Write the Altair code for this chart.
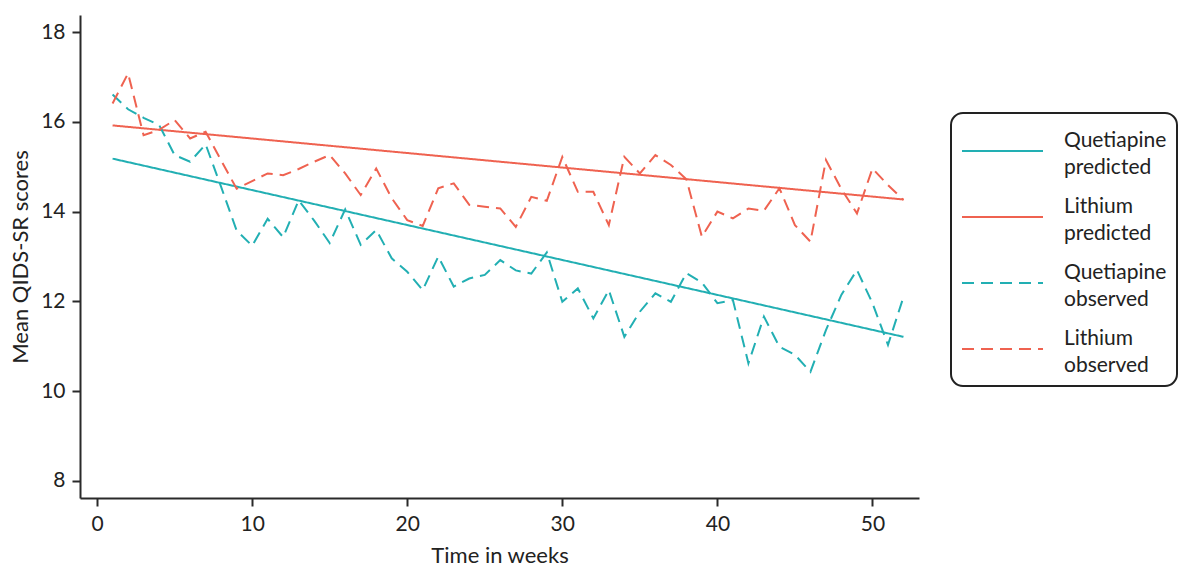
import altair as alt
import pandas as pd

weeks = list(range(1, 53))

quetiapine_observed = [
    16.61, 16.28, 16.09, 15.93, 15.26, 15.11, 15.50, 14.55, 13.58, 13.24,
    13.84, 13.43, 14.25, 13.80, 13.30, 14.05, 13.26, 13.59, 12.96, 12.66,
    12.25, 13.00, 12.33, 12.51, 12.59, 12.92, 12.69, 12.62, 13.09, 11.99,
    12.29, 11.62, 12.25, 11.21, 11.77, 12.18, 11.99, 12.63, 12.42, 11.96,
    12.03, 10.62, 11.66, 10.99, 10.81, 10.43, 11.36, 12.15, 12.70, 11.96,
    11.03, 12.10,
]

lithium_observed = [
    16.41, 17.08, 15.70, 15.82, 16.04, 15.63, 15.78, 15.14, 14.51, 14.68,
    14.85, 14.81, 14.95, 15.11, 15.26, 14.85, 14.37, 14.96, 14.30, 13.81,
    13.68, 14.52, 14.63, 14.15, 14.11, 14.07, 13.66, 14.33, 14.24, 15.22,
    14.44, 14.44, 13.70, 15.22, 14.85, 15.26, 15.04, 14.72, 13.44, 14.00,
    13.85, 14.07, 14.02, 14.52, 13.70, 13.33, 15.15, 14.50, 13.96, 14.96,
    14.59, 14.26,
]

predicted_weeks = [1, 52]
quetiapine_predicted = [15.18, 11.21]
lithium_predicted = [15.92, 14.27]

series_names = ["Quetiapine predicted", "Lithium predicted",
                "Quetiapine observed", "Lithium observed"]
series_colors = ["#22AFB3", "#EF6250", "#22AFB3", "#EF6250"]
series_dashes = [[1, 0], [1, 0], [12, 7], [12, 7]]

rows = []
for w, v in zip(predicted_weeks, quetiapine_predicted):
    rows.append({"week": w, "score": v, "series": series_names[0]})
for w, v in zip(predicted_weeks, lithium_predicted):
    rows.append({"week": w, "score": v, "series": series_names[1]})
for w, v in zip(weeks, quetiapine_observed):
    rows.append({"week": w, "score": v, "series": series_names[2]})
for w, v in zip(weeks, lithium_observed):
    rows.append({"week": w, "score": v, "series": series_names[3]})
df = pd.DataFrame(rows)

legend = alt.Legend(
    title=None,
    orient="none",
    legendX=871,
    legendY=98,
    labelExpr="split(datum.label, ' ')",
    labelBaseline="bottom",
    symbolType="M-1,0H2",
    symbolSize=2916,
    symbolStrokeWidth=2,
    labelOffset=47,
    rowPadding=11,
)

chart = alt.Chart(df).mark_line(strokeWidth=2).encode(
    x=alt.X("week:Q", title="Time in weeks",
            scale=alt.Scale(domain=[-1.1, 53.0], nice=False, zero=False),
            axis=alt.Axis(values=[0, 10, 20, 30, 40, 50], labelPadding=7, titlePadding=11)),
    y=alt.Y("score:Q", title="Mean QIDS-SR scores",
            scale=alt.Scale(domain=[7.62, 18.38], nice=False, zero=False),
            axis=alt.Axis(values=[8, 10, 12, 14, 16, 18], labelPadding=7, titlePadding=8)),
    color=alt.Color("series:N", sort=series_names,
                    scale=alt.Scale(domain=series_names, range=series_colors),
                    legend=legend),
    strokeDash=alt.StrokeDash("series:N", sort=series_names,
                              scale=alt.Scale(domain=series_names, range=series_dashes),
                              legend=legend),
    detail="series:N",
).properties(
    width=839,
    height=483,
    autosize=alt.AutoSizeParams(type="none"),
    padding={"left": 80, "top": 15, "right": 265, "bottom": 69},
).configure(
    style={"guide-label": {"lineHeight": 27}}
).configure_view(
    stroke=None
).configure_axis(
    grid=False,
    labelFont="Lato",
    titleFont="Lato",
    labelFontSize=21,
    titleFontSize=22,
    titleFontWeight="normal",
    labelColor="#222222",
    titleColor="#222222",
    domainColor="#2a2a2a",
    tickColor="#2a2a2a",
    domainWidth=2,
    tickWidth=2,
    tickSize=8,
).configure_legend(
    labelFont="Lato",
    labelFontSize=21,
    labelColor="#222222",
    strokeColor="#222222",
    strokeWidth=2,
    cornerRadius=12,
    padding=10,
    labelLimit=300,
)

chart.save("out.html", embed_options={"renderer": "svg", "actions": False})
